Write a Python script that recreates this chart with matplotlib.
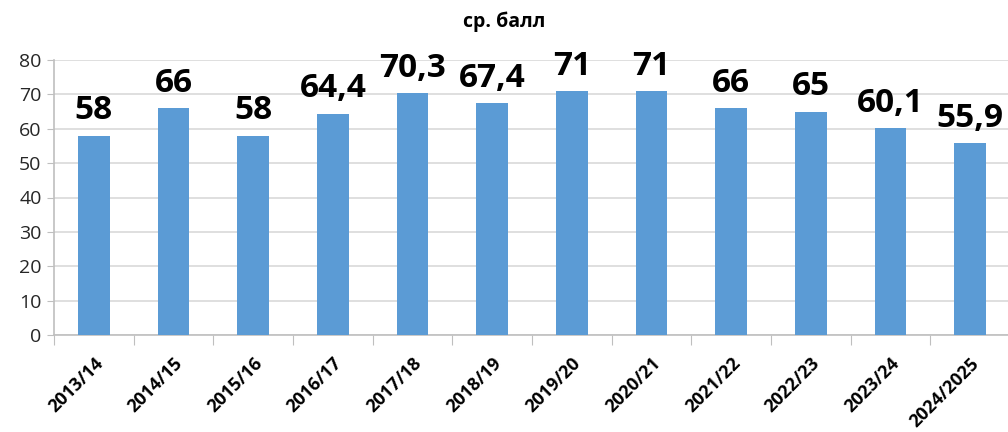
import matplotlib
matplotlib.use("Agg")
import matplotlib.pyplot as plt
import numpy as np

# data
years = ["2013/14", "2014/15", "2015/16", "2016/17", "2017/18", "2018/19",
         "2019/20", "2020/21", "2021/22", "2022/23", "2023/24", "2024/2025"]
scores = [58, 66, 58, 64.4, 70.3, 67.4, 71, 71, 66, 65, 60.1, 55.9]
score_labels = ["58", "66", "58", "64,4", "70,3", "67,4", "71", "71", "66", "65", "60,1", "55,9"]

plt.rcParams['font.family'] = ['Open Sans', 'DejaVu Sans']

fig = plt.figure(figsize=(10.08, 4.32), dpi=100)
ax = fig.add_axes([54/1008, 97/432, 956/1008, 275/432])

x = np.arange(len(years))
ax.bar(x, scores, width=0.4, color="#5B9BD5", zorder=3)

for xi, v, lab in zip(x, scores, score_labels):
    ax.annotate(lab, (xi, v), xytext=(0, 6), textcoords="offset points",
                ha="center", va="bottom", fontsize=24, fontweight="bold",
                color="black")

ax.set_xlim(-0.5, len(years) - 0.5)
ax.set_ylim(0, 80)
ax.set_yticks(range(0, 81, 10))
ax.grid(axis="y", color="#D9D9D9", lw=1.2, zorder=0)
ax.tick_params(axis="y", length=5, color="#BFBFBF", labelsize=14,
               labelcolor="#262626", pad=4)

# category boundary ticks
ax.set_xticks(np.arange(-0.5, len(years) + 0.5, 1.0))
ax.set_xticklabels([])
ax.tick_params(axis="x", which="major", length=7, color="#BFBFBF")
ax.set_xticks(x, minor=True)
ax.set_xticklabels(years, minor=True, rotation=45, ha="right",
                   rotation_mode="anchor", fontsize=13, fontweight="bold")
ax.tick_params(axis="x", which="minor", length=0, pad=14)

for s in ["top", "right"]:
    ax.spines[s].set_visible(False)
for s in ["left", "bottom"]:
    ax.spines[s].set_color("#BFBFBF")
    ax.spines[s].set_linewidth(1.2)

fig.text(0.5, 1 - 22/432, "ср. балл", ha="center", va="center",
         fontsize=14, fontweight="bold")

fig.savefig("out.png", dpi=100)
